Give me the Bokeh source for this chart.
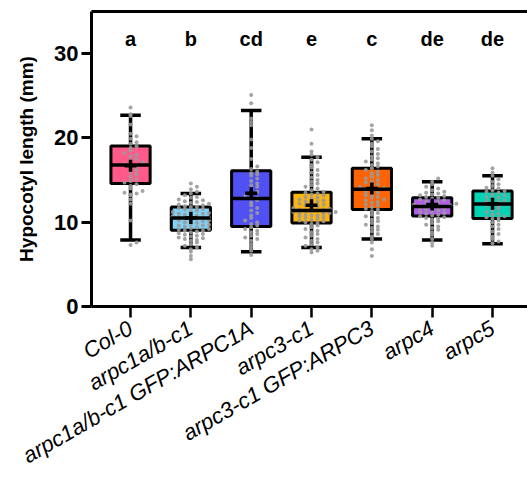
import numpy as np
from bokeh.plotting import figure
from bokeh.models import Range1d, FixedTicker, LinearAxis, ColumnDataSource
from bokeh.core.properties import value
from bokeh.embed import file_html
from bokeh.resources import INLINE

# ---------------- data ----------------
groups = ["Col-0", "arpc1a/b-c1", "arpc1a/b-c1 GFP:ARPC1A", "arpc3-c1",
          "arpc3-c1 GFP:ARPC3", "arpc4", "arpc5"]
letters = ["a", "b", "cd", "e", "c", "de", "de"]
colors = ["#FF5A8A", "#7DD3F7", "#5050F5", "#FFB50A", "#FF6400", "#B55CF0", "#00D4B4"]

whisk_lo = [7.9, 7.0, 6.5, 7.0, 8.0, 7.9, 7.45]
q1 = [14.6, 9.05, 9.5, 9.9, 11.5, 10.75, 10.45]
med = [16.8, 10.5, 12.8, 11.4, 13.9, 11.85, 12.15]
q3 = [19.05, 11.8, 16.1, 13.55, 16.4, 12.9, 13.7]
whisk_hi = [22.7, 13.4, 23.25, 17.7, 19.9, 14.8, 15.5]
means = [16.7, 10.5, 13.45, 12.0, 14.0, 12.1, 12.2]

col0 = [23.6, 22.8, 22.6, 21.6, 20.5, 20.2, 19.9, 19.5, 19.3, 19.0, 18.8, 18.5, 18.2,
        18.0, 17.8, 17.5, 17.3, 17.1, 16.9, 16.8, 16.8, 16.6, 16.4, 16.2, 16.0, 15.7,
        15.4, 15.1, 14.9, 14.7, 14.5, 14.3, 14.0, 13.7, 13.5, 13.4, 13.3, 13.2, 12.7,
        12.2, 10.2, 7.6, 7.3]
arpc1 = [14.6, 14.2, 13.9, 13.6, 13.4, 13.2, 13.0, 12.9, 12.7, 12.6, 12.5, 12.4, 12.3,
         12.2, 12.1, 12.0, 11.9, 11.8, 11.8, 11.7, 11.6, 11.5, 11.4, 11.3, 11.2, 11.1,
         11.0, 11.0, 10.9, 10.8, 10.8, 10.7, 10.6, 10.6, 10.5, 10.5, 10.4, 10.3, 10.2,
         10.2, 10.1, 10.0, 9.9, 9.8, 9.7, 9.6, 9.6, 9.5, 9.4, 9.3, 9.2, 9.1, 9.0, 9.0,
         8.9, 8.8, 8.7, 8.6, 8.5, 8.4, 8.3, 8.2, 8.1, 8.0, 7.9, 7.8, 7.6, 7.4, 7.2, 7.0,
         6.8, 6.5, 6.0, 5.6]
arpc1_gfp = [25.1, 24.1, 22.3, 21.9, 21.5, 19.8, 18.8, 17.5, 16.6, 16.3, 16.0, 15.8,
             15.7, 15.5, 15.2, 14.9, 14.6, 14.4, 14.2, 13.9, 13.6, 13.3, 13.1, 12.9,
             12.8, 12.6, 12.3, 12.0, 11.7, 11.4, 11.1, 10.8, 10.5, 10.2, 10.0, 9.8, 9.6,
             9.4, 9.2, 9.0, 8.8, 8.6, 8.4, 8.2, 8.0, 7.8, 7.4, 7.0, 6.6, 6.1]
arpc3 = [21.0, 19.3, 18.4, 18.0, 17.7, 17.4, 17.1, 16.8, 16.5, 16.2, 15.9, 15.6, 15.3,
         15.0, 14.8, 14.6, 14.4, 14.2, 14.0, 13.8, 13.6, 13.5, 13.4, 13.3, 13.2, 13.0,
         12.9, 12.8, 12.7, 12.6, 12.5, 12.4, 12.3, 12.2, 12.1, 12.0, 11.9, 11.8, 11.7,
         11.6, 11.5, 11.5, 11.4, 11.4, 11.3, 11.2, 11.2, 11.1, 11.0, 11.0, 10.9, 10.8,
         10.8, 10.7, 10.6, 10.5, 10.4, 10.3, 10.2, 10.1, 10.0, 9.9, 9.8, 9.6, 9.4, 9.2,
         9.0, 8.8, 8.6, 8.4, 8.2, 8.0, 7.8, 7.6, 7.4, 7.2, 7.0, 6.8, 6.6, 6.4]
arpc3_gfp = [21.5, 20.9, 20.3, 19.9, 19.6, 19.3, 19.0, 18.7, 18.4, 18.1, 17.8, 17.6,
             17.4, 17.2, 17.0, 16.8, 16.6, 16.4, 16.2, 16.0, 15.8, 15.6, 15.4, 15.2,
             15.0, 14.8, 14.7, 14.5, 14.4, 14.2, 14.1, 14.0, 13.9, 13.8, 13.6, 13.5,
             13.3, 13.2, 13.0, 12.9, 12.7, 12.6, 12.4, 12.3, 12.1, 12.0, 11.8, 11.6,
             11.5, 11.3, 11.1, 10.9, 10.7, 10.5, 10.3, 10.1, 9.9, 9.7, 9.5, 9.3, 9.1,
             8.9, 8.6, 8.3, 8.0, 7.6, 6.8, 6.0]
arpc4 = [15.2, 14.8, 14.5, 14.2, 14.0, 13.8, 13.6, 13.5, 13.4, 13.3, 13.2, 13.1, 13.0,
         12.9, 12.8, 12.7, 12.6, 12.5, 12.4, 12.3, 12.2, 12.1, 12.0, 12.0, 11.9, 11.9,
         11.8, 11.8, 11.7, 11.6, 11.5, 11.4, 11.3, 11.2, 11.1, 11.0, 10.9, 10.8, 10.7,
         10.6, 10.5, 10.4, 10.3, 10.1, 9.9, 9.7, 9.5, 9.3, 9.1, 8.8, 8.5, 8.0, 7.6, 7.2]
arpc5 = [16.4, 15.9, 15.5, 15.1, 14.8, 14.5, 14.3, 14.1, 14.0, 13.8, 13.7, 13.6, 13.5,
         13.3, 13.2, 13.0, 12.9, 12.8, 12.6, 12.5, 12.4, 12.3, 12.2, 12.1, 12.0, 11.9,
         11.8, 11.6, 11.4, 11.2, 11.0, 10.9, 10.7, 10.6, 10.5, 10.4, 10.2, 10.0, 9.7,
         9.5, 9.2, 8.9, 8.6, 8.3, 8.0, 7.7, 7.5]
points = [col0, arpc1, arpc1_gfp, arpc3, arpc3_gfp, arpc4, arpc5]

y_ticks = [0, 10, 20, 30]

FONT = "Liberation Sans"

# ---------------- figure ----------------
p = figure(width=527, height=481, x_range=Range1d(-0.647, 6.58), y_range=Range1d(0, 35),
           output_backend="svg", toolbar_location=None,
           min_border_left=91, min_border_right=0, min_border_top=11, min_border_bottom=175)
p.xgrid.visible = False
p.ygrid.visible = False
p.outline_line_color = None
p.background_fill_color = "white"
p.border_fill_color = "white"

idx = list(range(len(groups)))
BW = 0.65
CW = 0.34

src = ColumnDataSource(dict(x=idx, q1=q1, q3=q3, med=med, lo=whisk_lo, hi=whisk_hi,
                            mean=means, color=colors,
                            xl=[i - BW / 2 for i in idx], xr=[i + BW / 2 for i in idx],
                            cl=[i - CW / 2 for i in idx], cr=[i + CW / 2 for i in idx]))

# whiskers
p.segment(x0="x", y0="q3", x1="x", y1="hi", source=src, line_color="black", line_width=3.5)
p.segment(x0="x", y0="q1", x1="x", y1="lo", source=src, line_color="black", line_width=3.5)
p.segment(x0="cl", y0="hi", x1="cr", y1="hi", source=src, line_color="black", line_width=3.5)
p.segment(x0="cl", y0="lo", x1="cr", y1="lo", source=src, line_color="black", line_width=3.5)
# boxes
p.vbar(x="x", width=BW, bottom="q1", top="q3", source=src, fill_color="color",
       line_color="black", line_width=3)

# points (deterministic swarm layout)
px, py = [], []
for i, vals in enumerate(points):
    counts = {}
    for v in sorted(vals):
        b = int(round(v / 0.5))
        k = counts.get(b, 0)
        counts[b] = k + 1
        off = ((k + 1) // 2) * 0.1 * (1 if k % 2 else -1)
        px.append(i + off)
        py.append(v)
p.scatter(px, py, size=4, fill_color="#9a9a9a", line_color=None, alpha=0.9)

# median + mean
p.segment(x0="xl", y0="med", x1="xr", y1="med", source=src, line_color="black", line_width=3.5)
p.scatter(x="x", y="mean", source=src, marker="cross", size=12, line_color="black", line_width=3.5)

# significance letters
p.text(x=idx, y=[31.7] * len(idx), text=letters, text_font=value(FONT),
       text_font_style="bold", text_font_size="20px", text_align="center",
       text_baseline="middle", text_color="black")

# axes
xa = p.xaxis[0]
xa.ticker = FixedTicker(ticks=idx)
xa.major_label_overrides = {i: g for i, g in enumerate(groups)}
xa.major_label_orientation = np.pi / 6
xa.major_label_text_font = FONT
xa.major_label_text_font_style = "italic"
xa.major_label_text_font_size = "22px"
xa.major_label_text_color = "black"
xa.major_label_standoff = 9
xa.axis_line_width = 3
xa.major_tick_line_width = 2.5
xa.major_tick_out = 11
xa.major_tick_in = 0
xa.minor_tick_line_color = None
xa.axis_line_color = "black"
xa.major_tick_line_color = "black"

ya = p.yaxis[0]
ya.ticker = FixedTicker(ticks=y_ticks)
ya.axis_line_width = 3
ya.major_tick_line_width = 3
ya.major_tick_out = 10
ya.major_tick_in = 0
ya.minor_tick_line_color = None
ya.major_label_text_font = FONT
ya.major_label_text_font_style = "bold"
ya.major_label_text_font_size = "22px"
ya.major_label_text_color = "black"
ya.major_label_standoff = 3
ya.axis_label = "Hypocotyl length (mm)"
ya.axis_label_text_font = FONT
ya.axis_label_text_font_style = "bold"
ya.axis_label_text_font_size = "19px"
ya.axis_label_text_color = "black"
ya.axis_label_standoff = 14
ya.axis_line_color = "black"
ya.major_tick_line_color = "black"

top = LinearAxis(ticker=FixedTicker(ticks=[]), axis_line_width=3, axis_line_color="black",
                 major_tick_out=0, major_tick_in=0, minor_tick_out=0, minor_tick_in=0,
                 major_label_text_font_size="0px", major_label_standoff=0)
p.add_layout(top, "above")

open("out.html", "w").write(file_html(p, INLINE))
